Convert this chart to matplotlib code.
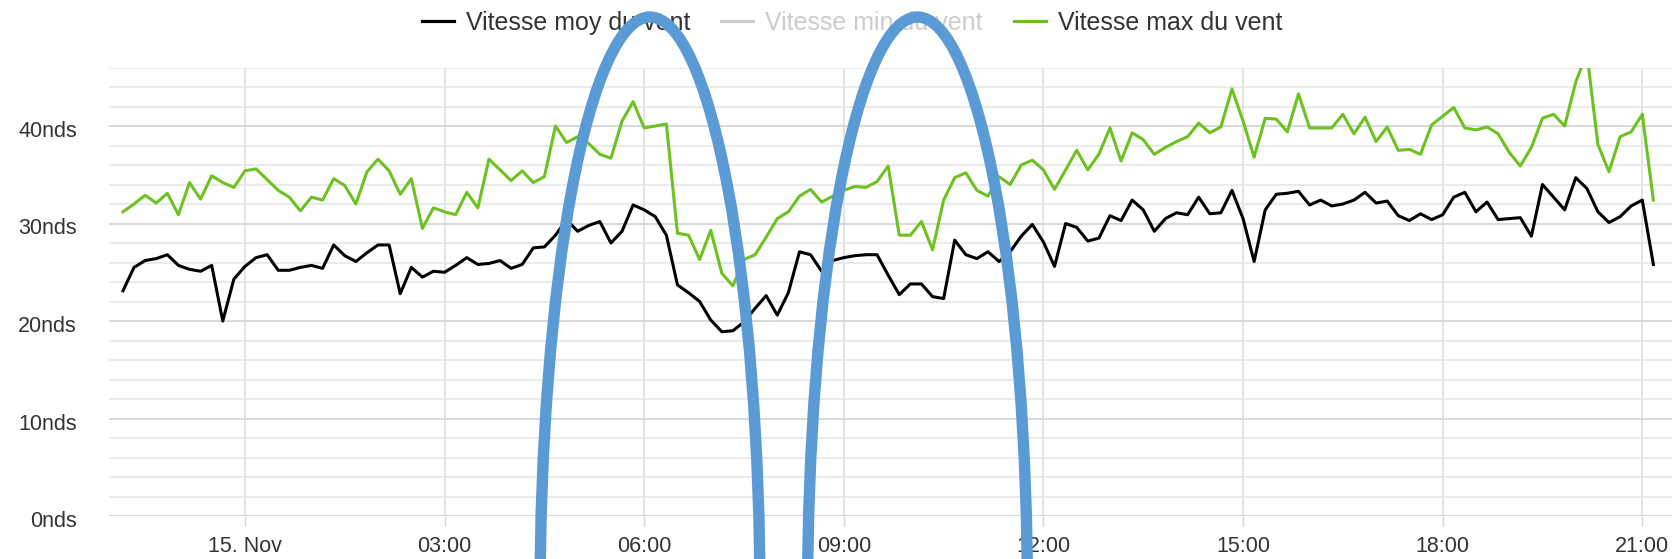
import matplotlib
matplotlib.use("Agg")
import matplotlib.pyplot as plt
import matplotlib.transforms as mtransforms
from matplotlib.patches import Ellipse
from matplotlib.lines import Line2D
import numpy as np
import pandas as pd

# ---------------- data ----------------
start_time = "2023-11-14 22:10"
step = "10min"

vitesse_moy = [
    23.1, 25.5, 26.2, 26.4, 26.8, 25.7, 25.3, 25.1, 25.7, 20.0,
    24.3, 25.6, 26.5, 26.8, 25.2, 25.2, 25.5, 25.7, 25.4, 27.8,
    26.7, 26.1, 27.0, 27.8, 27.8, 22.8, 25.5, 24.5, 25.1, 25.0,
    25.7, 26.5, 25.8, 25.9, 26.2, 25.4, 25.8, 27.5, 27.6, 28.8,
    30.4, 29.2, 29.8, 30.2, 28.0, 29.2, 31.9, 31.4, 30.7, 28.8,
    23.7, 22.9, 22.0, 20.1, 18.9, 19.0, 19.9, 21.3, 22.6, 20.6,
    22.9, 27.1, 26.8, 25.1, 26.2, 26.5, 26.7, 26.8, 26.8, 24.7,
    22.7, 23.8, 23.8, 22.5, 22.3, 28.3, 26.8, 26.4, 27.1, 26.1,
    27.1, 28.7, 29.9, 28.1, 25.6, 30.0, 29.6, 28.2, 28.5, 30.8,
    30.3, 32.4, 31.4, 29.2, 30.5, 31.1, 30.9, 32.7, 31.0, 31.1,
    33.4, 30.5, 26.1, 31.4, 33.0, 33.1, 33.3, 31.9, 32.4, 31.8,
    32.0, 32.4, 33.2, 32.1, 32.3, 30.8, 30.3, 31.0, 30.4, 30.9,
    32.7, 33.2, 31.2, 32.2, 30.4, 30.5, 30.6, 28.7, 34.0, 32.7,
    31.4, 34.7, 33.6, 31.2, 30.1, 30.7, 31.8, 32.4, 25.8,
]

vitesse_max = [
    31.2, 32.0, 32.9, 32.1, 33.1, 30.9, 34.2, 32.5, 34.9, 34.2,
    33.7, 35.4, 35.6, 34.5, 33.4, 32.7, 31.3, 32.7, 32.4, 34.6,
    33.9, 32.0, 35.3, 36.6, 35.4, 33.0, 34.6, 29.5, 31.6, 31.2,
    30.9, 33.2, 31.6, 36.6, 35.5, 34.4, 35.4, 34.2, 34.8, 40.0,
    38.3, 38.9, 38.2, 37.1, 36.7, 40.5, 42.5, 39.8, 40.0, 40.2,
    29.0, 28.8, 26.3, 29.3, 24.9, 23.6, 26.3, 26.8, 28.6, 30.5,
    31.2, 32.8, 33.5, 32.2, 32.8, 33.4, 33.8, 33.7, 34.3, 35.9,
    28.8, 28.8, 30.2, 27.3, 32.4, 34.7, 35.2, 33.4, 32.8, 34.8,
    34.0, 36.0, 36.5, 35.5, 33.5, 35.5, 37.5, 35.5, 37.1, 39.8,
    36.4, 39.3, 38.6, 37.1, 37.8, 38.4, 38.9, 40.3, 39.3, 39.9,
    43.8, 40.5, 36.8, 40.8, 40.7, 39.4, 43.3, 39.8, 39.8, 39.8,
    41.2, 39.2, 40.9, 38.4, 39.9, 37.5, 37.6, 37.1, 40.1, 41.0,
    41.9, 39.8, 39.6, 39.9, 39.2, 37.3, 35.9, 37.8, 40.8, 41.2,
    40.0, 44.5, 47.5, 38.1, 35.3, 38.9, 39.4, 41.2, 32.4,
]

series_labels = ["Vitesse moy du vent", "Vitesse min du vent", "Vitesse max du vent"]
x_tick_times = ["2023-11-15 00:00", "2023-11-15 03:00", "2023-11-15 06:00",
                "2023-11-15 09:00", "2023-11-15 12:00", "2023-11-15 15:00",
                "2023-11-15 18:00", "2023-11-15 21:00"]
x_tick_labels = ["15. Nov", "03:00", "06:00", "09:00", "12:00", "15:00", "18:00", "21:00"]
y_major = [0, 10, 20, 30, 40]
y_tick_labels = ["0nds", "10nds", "20nds", "30nds", "40nds"]

# ---------------- style ----------------
plt.rcParams["font.family"] = ["Liberation Sans", "DejaVu Sans"]
GREEN = "#6dc120"
TXT = "#333333"
W, H = 1677, 559

times = pd.date_range(start_time, periods=len(vitesse_moy), freq=step)

fig = plt.figure(figsize=(W / 100, H / 100), dpi=100)
left, right, top, bottom = 109, 1672, 67.5, 516
ax = fig.add_axes([left / W, 1 - bottom / H, (right - left) / W, (bottom - top) / H])

ax.plot(times, vitesse_moy, color="black", lw=2.2, solid_joinstyle="round", zorder=3)
ax.plot(times, vitesse_max, color=GREEN, lw=2.2, solid_joinstyle="round", zorder=3)

ax.set_ylim(0, 46)
ax.set_xlim(times[0] - pd.Timedelta(minutes=12.6), times[0] + pd.Timedelta(minutes=1396.8))

ax.set_yticks(y_major)
ax.set_yticklabels(y_tick_labels)
ax.set_yticks([v for v in range(0, 47, 2) if v % 10 != 0], minor=True)
ax.set_xticks(pd.to_datetime(x_tick_times))
ax.set_xticklabels(x_tick_labels)

ax.grid(which="major", axis="y", color="#d6d6d6", lw=1.3, zorder=0)
ax.grid(which="minor", axis="y", color="#e6e6e6", lw=1.2, zorder=0)
ax.grid(which="major", axis="x", color="#dedede", lw=1.2, zorder=0)

for s in ax.spines.values():
    s.set_visible(False)

ax.tick_params(axis="y", which="both", length=0, pad=23, labelsize=15.5, labelcolor=TXT)
ax.tick_params(axis="x", which="major", direction="out", length=7.5, width=1,
               color="#ccd6eb", pad=7, labelsize=15.5, labelcolor=TXT)
ax.tick_params(axis="x", which="minor", length=0)

shift = mtransforms.ScaledTranslation(0, -3 / 100, fig.dpi_scale_trans)
for lab in ax.get_yticklabels():
    lab.set_transform(lab.get_transform() + shift)

# legend
handles = [Line2D([], [], color="black", lw=2.3),
           Line2D([], [], color="#cccccc", lw=2.3),
           Line2D([], [], color=GREEN, lw=2.3)]
leg = fig.legend(handles, series_labels, loc="center", bbox_to_anchor=(852 / W, 1 - 23 / H),
                 ncol=3, frameon=False, fontsize=18, handlelength=1.28, handletextpad=0.48,
                 columnspacing=1.24, borderpad=0, borderaxespad=0)
for t, c in zip(leg.get_texts(), [TXT, "#cccccc", TXT]):
    t.set_color(c)

# hand-drawn blue arcs overlay
ov = fig.add_axes([0, 0, 1, 1], zorder=10)
ov.set_xlim(0, W)
ov.set_ylim(H, 0)
ov.axis("off")
ov.patch.set_alpha(0)
for cx in (650, 917.5):
    ov.add_patch(Ellipse((cx, 600), width=220, height=1166, fill=False,
                         ec="#5b9bd5", lw=8.2))

fig.savefig("out.png", dpi=100)
